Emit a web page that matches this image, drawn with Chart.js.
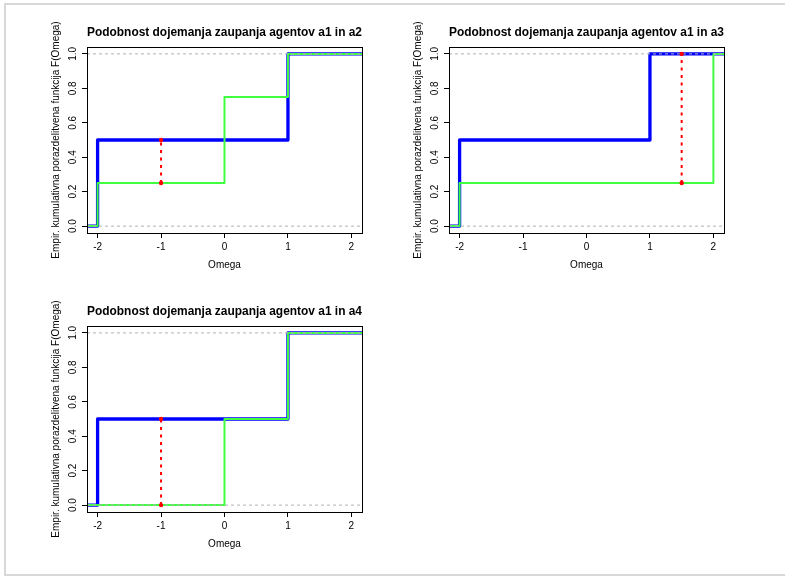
<!DOCTYPE html>
<html>
<head>
<meta charset="utf-8">
<script src="https://cdn.jsdelivr.net/npm/chart.js@4"></script>
<style>
  html, body { margin: 0; padding: 0; background: #fff; }
  body { width: 785px; height: 576px; position: relative; overflow: hidden; }
  #frame {
    position: absolute; left: 4px; top: 3px; right: -10px; bottom: 0;
    border: 2px solid #d8d8d8; box-sizing: border-box;
  }
  canvas { position: absolute; }
</style>
</head>
<body>
<div id="frame"></div>
<canvas id="p1" width="372" height="282" style="left:0;top:0"></canvas>
<canvas id="p2" width="372" height="282" style="left:362px;top:0"></canvas>
<canvas id="p3" width="372" height="282" style="left:0;top:279px"></canvas>
<script>
// Empirical CDFs of trust perception, agent a1 against a2, a3, a4,
// with the Kolmogorov-Smirnov gap marked in red.

const xTicks = [-2, -1, 0, 1, 2];
const yTicks = [0, 0.2, 0.4, 0.6, 0.8, 1.0];
const yTickLabels = ["0.0", "0.2", "0.4", "0.6", "0.8", "1.0"];
const xMin = -2.167, xMax = 2.167;
const yMin = -0.04, yMax = 1.04;

// ecdf knots and the value F takes from each knot on
const a1Knots = [-2, 1];
const a1F = [0.5, 1.0];
const a2Knots = [-2, 0, 1];
const a2F = [0.25, 0.75, 1.0];
const a3Knots = [-2, 2];
const a3F = [0.25, 1.0];
const a4Knots = [0, 1];
const a4F = [0.5, 1.0];

// where the largest gap sits, and its two ends
const ksX = [-1, 1.5, -1];
const ksLow = [0.25, 0.25, 0];
const ksHigh = [0.5, 1.0, 0.5];

const refLevels = [0, 1];
const titles = [
  "Podobnost dojemanja zaupanja agentov a1 in a2",
  "Podobnost dojemanja zaupanja agentov a1 in a3",
  "Podobnost dojemanja zaupanja agentov a1 in a4",
];
const others = [[a2Knots, a2F], [a3Knots, a3F], [a4Knots, a4F]];

const FONT = "'Liberation Sans', Arial, Helvetica, sans-serif";

function stepPoints(knots, F) {
  const pts = [{ x: xMin, y: 0 }];
  knots.forEach((k, i) => pts.push({ x: k, y: F[i] }));
  pts.push({ x: xMax, y: F[F.length - 1] });
  return pts;
}

function stepSet(knots, F, color, width) {
  return {
    data: stepPoints(knots, F),
    stepped: "before",
    borderColor: color,
    borderWidth: width,
    borderJoinStyle: "round",
    pointRadius: 0,
  };
}

// black box round the plot region, like R's box()
const boxPlugin = {
  id: "box",
  afterDraw(chart) {
    const { ctx, chartArea: a } = chart;
    ctx.save();
    ctx.strokeStyle = "#000";
    ctx.lineWidth = 1;
    ctx.strokeRect(Math.round(a.left) + 0.5, Math.round(a.top) + 0.5,
      Math.round(a.right - a.left), Math.round(a.bottom - a.top));
    ctx.restore();
  },
};

function drawPanel(id, i) {
  const [knots, F] = others[i];
  // first dataset is painted last, so the list runs top layer first
  const datasets = [
    {
      data: [{ x: ksX[i], y: ksLow[i] }, { x: ksX[i], y: ksHigh[i] }],
      borderColor: "#ff0000",
      borderWidth: 2,
      borderDash: [3, 4.5],
      pointRadius: 2.2,
      pointBorderWidth: 0,
      pointBackgroundColor: "#ff0000",
    },
    ...refLevels.map((lv) => ({
      data: [{ x: xMin, y: lv }, { x: xMax, y: lv }],
      borderColor: "#b3b3b3",
      borderWidth: 1,
      borderDash: [3, 3],
      pointRadius: 0,
    })),
    stepSet(knots, F, "#40ff40", 2),
    stepSet(a1Knots, a1F, "#0000ff", 3.3),
  ];

  new Chart(document.getElementById(id), {
    type: "line",
    data: { datasets },
    plugins: [boxPlugin],
    options: {
      responsive: false,
      animation: false,
      devicePixelRatio: 1,
      layout: { padding: { left: 0, right: 10, top: 0, bottom: 0 } },
      plugins: {
        legend: { display: false },
        tooltip: { enabled: false },
        title: {
          display: true,
          text: titles[i],
          fullSize: false,
          color: "#000",
          font: { family: FONT, size: 12, weight: "bold" },
          padding: { top: 25, bottom: 7.6 },
        },
      },
      scales: {
        x: {
          type: "linear",
          min: xMin,
          max: xMax,
          afterBuildTicks: (s) => { s.ticks = xTicks.map((v) => ({ value: v })); },
          afterFit: (s) => { s.height = 49; },
          grid: { drawOnChartArea: false, drawTicks: true, tickLength: 5, color: "#000" },
          border: { display: false },
          ticks: {
            color: "#000",
            padding: 3,
            maxRotation: 0,
            font: { family: FONT, size: 10 },
            callback: (v) => String(v),
          },
          title: {
            display: true,
            text: "Omega",
            color: "#000",
            font: { family: FONT, size: 10 },
            padding: { top: 0, bottom: 11 },
          },
        },
        y: {
          type: "linear",
          min: yMin,
          max: yMax,
          afterBuildTicks: (s) => { s.ticks = yTicks.map((v) => ({ value: v })); },
          afterFit: (s) => { s.width = 87; },
          grid: { drawOnChartArea: false, drawTicks: true, tickLength: 5, color: "#000" },
          border: { display: false },
          ticks: {
            color: "#000",
            padding: 2,
            minRotation: 90,
            maxRotation: 90,
            crossAlign: "center",
            font: { family: FONT, size: 10 },
            callback: (v) => yTickLabels[yTicks.indexOf(v)],
          },
          title: {
            display: true,
            text: "Empir. kumulativna porazdelitvena funkcija F(Omega)",
            color: "#000",
            font: { family: FONT, size: 10 },
            padding: { top: 50, bottom: 0 },
          },
        },
      },
    },
  });
}

drawPanel("p1", 0);
drawPanel("p2", 1);
drawPanel("p3", 2);
</script>
</body>
</html>
